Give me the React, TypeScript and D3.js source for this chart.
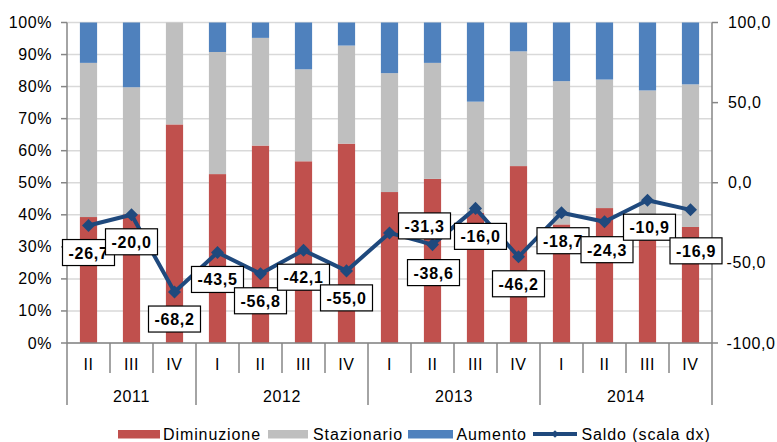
import React from "react";
import * as d3 from "d3";

const quarters = ["II", "III", "IV", "I", "II", "III", "IV", "I", "II", "III", "IV", "I", "II", "III", "IV"];
const years = ["2011", "2012", "2013", "2014"];
const yearSpans = [3, 4, 4, 4];
const diminuzione = [39.3, 40.2, 68.2, 52.7, 61.6, 56.7, 62.2, 47.1, 51.2, 40.7, 55.2, 37.0, 42.1, 32.1, 36.2];
const stazionario = [48.1, 39.6, 31.8, 38.1, 33.6, 28.7, 30.6, 37.1, 36.2, 34.6, 35.8, 44.7, 40.1, 46.7, 44.5];
const aumento = [12.6, 20.2, 0.0, 9.2, 4.8, 14.6, 7.2, 15.8, 12.6, 24.7, 9.0, 18.3, 17.8, 21.2, 19.3];
const saldo = [-26.7, -20.0, -68.2, -43.5, -56.8, -42.1, -55.0, -31.3, -38.6, -16.0, -46.2, -18.7, -24.3, -10.9, -16.9];
const leftTicks = [0, 10, 20, 30, 40, 50, 60, 70, 80, 90, 100];
const rightTicks = [-100, -50, 0, 50, 100];

// label nudges (layout, not data)
const labelNudge: [number, number][] = [
  [0, 27], [0, 27], [0, 27], [0, 27], [0, 27], [0, 27], [0, 27],
  [35, -7], [1, 28], [5, 28], [0, 27], [1.5, 28], [2.5, 28], [2, 27], [5.5, 41],
];

const RED = "#C0504D";
const GRAY = "#BFBFBF";
const BLUE = "#4F81BD";
const LINE = "#1F497D";
const AXIS = "#868686";
const GRID = "#D9D9D9";
const FONT = "Arial, 'Liberation Sans', sans-serif";

export default function App() {
  const W = 777, H = 442;
  const L = 67, R = 712, T = 22.5, B = 343;
  const idx = quarters.map((_, i) => i);
  const x = d3.scaleBand<number>().domain(idx).range([L, R]).paddingInner(0.6).paddingOuter(0.3);
  const step = x.step();
  const yL = d3.scaleLinear().domain([0, 100]).range([B, T]);
  const yR = d3.scaleLinear().domain([-100, 100]).range([B, T]);
  const cx = (i: number) => (x(i) as number) + x.bandwidth() / 2;

  const stackKeys = ["dim", "staz", "aum"];
  const rows = idx.map((i) => ({ dim: diminuzione[i], staz: stazionario[i], aum: aumento[i] }));
  const stacked = d3.stack<any>().keys(stackKeys)(rows);
  const colors: Record<string, string> = { dim: RED, staz: GRAY, aum: BLUE };

  const line = d3.line<number>().x((d, i) => cx(i)).y((d) => yR(d));
  const diamond = d3.symbol().type(d3.symbolSquare).size(85)();
  const smallDiamond = d3.symbol().type(d3.symbolSquare).size(30)();

  const bounds: number[] = [0];
  yearSpans.forEach((s, k) => bounds.push(bounds[k] + s));

  const txt = { fontFamily: FONT, fill: "#000" } as const;

  return (
    <svg width={W} height={H} style={{ position: "absolute", left: 0, top: 0, background: "#fff" }}>
      {leftTicks.map((t) => (
        <line key={"g" + t} x1={L} x2={R} y1={yL(t)} y2={yL(t)} stroke={GRID} strokeWidth={1.5} />
      ))}
      {stacked.map((layer) => (
        <g key={layer.key} fill={colors[layer.key]}>
          {layer.map((d, i) => (
            <rect key={i} x={x(i)} width={x.bandwidth()} y={yL(d[1])} height={Math.max(0, yL(d[0]) - yL(d[1]))} />
          ))}
        </g>
      ))}
      <line x1={L} x2={L} y1={T} y2={B} stroke={AXIS} strokeWidth={1.5} />
      {leftTicks.map((t) => (
        <g key={"lt" + t}>
          <line x1={L - 6} x2={L} y1={yL(t)} y2={yL(t)} stroke={AXIS} strokeWidth={1.5} />
          <text x={52} y={yL(t) + 5.5} textAnchor="end" fontSize={16} letterSpacing={0.6} {...txt}>
            {t + "%"}
          </text>
        </g>
      ))}
      <line x1={R} x2={R} y1={T} y2={B} stroke={AXIS} strokeWidth={1.5} />
      {rightTicks.map((t) => (
        <g key={"rt" + t}>
          <line x1={R} x2={R + 6} y1={yR(t)} y2={yR(t)} stroke={AXIS} strokeWidth={1.5} />
          <text x={t < 0 ? 726.5 : 728} y={yR(t) + 5.5} textAnchor="start" fontSize={16} letterSpacing={0.6} {...txt}>
            {d3.format(".1f")(t).replace(".", ",").replace("−", "-")}
          </text>
        </g>
      ))}
      <line x1={L} x2={R} y1={B} y2={B} stroke={AXIS} strokeWidth={1.5} />
      {d3.range(quarters.length + 1).map((k) => {
        const isYear = bounds.includes(k);
        const xx = L + k * step;
        return <line key={"sep" + k} x1={xx} x2={xx} y1={B} y2={isYear ? 405 : 373} stroke={AXIS} strokeWidth={1.5} />;
      })}
      {quarters.map((q, i) => (
        <text key={"q" + i} x={cx(i)} y={370} textAnchor="middle" fontSize={16} letterSpacing={0.6} {...txt}>
          {q}
        </text>
      ))}
      {years.map((yv, k) => (
        <text key={"y" + yv} x={L + ((bounds[k] + bounds[k + 1]) / 2) * step} y={402} textAnchor="middle" fontSize={16} letterSpacing={0.6} {...txt}>
          {yv}
        </text>
      ))}
      <path d={line(saldo) || ""} fill="none" stroke={LINE} strokeWidth={4} strokeLinejoin="round" />
      {saldo.map((v, i) => (
        <path key={"m" + i} d={diamond || ""} transform={`translate(${cx(i)},${yR(v)}) rotate(45)`} fill={LINE} />
      ))}
      {saldo.map((v, i) => {
        const lx = cx(i) + labelNudge[i][0];
        const ly = yR(v) + labelNudge[i][1];
        const w = 52, h = 26;
        return (
          <g key={"lab" + i}>
            <rect x={lx - w / 2} y={ly - h / 2} width={w} height={h} fill="#fff" stroke="#000" strokeWidth={1.2} />
            <text x={lx} y={ly + 6} textAnchor="middle" fontSize={16} fontWeight="bold" letterSpacing={0.7} {...txt}>
              {v.toFixed(1).replace(".", ",")}
            </text>
          </g>
        );
      })}
      <rect x={118} y={430} width={42} height={8.5} fill={RED} />
      <text x={163} y={439.5} fontSize={16} letterSpacing={0.9} {...txt}>Diminuzione</text>
      <rect x={268} y={430} width={40} height={8.5} fill={GRAY} />
      <text x={313} y={439.5} fontSize={16} letterSpacing={0.9} {...txt}>Stazionario</text>
      <rect x={408} y={430} width={45} height={8.5} fill={BLUE} />
      <text x={456.5} y={439.5} fontSize={16} letterSpacing={0.9} {...txt}>Aumento</text>
      <line x1={533} x2={577} y1={434} y2={434} stroke={LINE} strokeWidth={4} />
      <path d={smallDiamond || ""} transform="translate(555,434) rotate(45)" fill={LINE} />
      <text x={581.5} y={439.5} fontSize={16} letterSpacing={0.9} {...txt}>Saldo (scala dx)</text>
    </svg>
  );
}
